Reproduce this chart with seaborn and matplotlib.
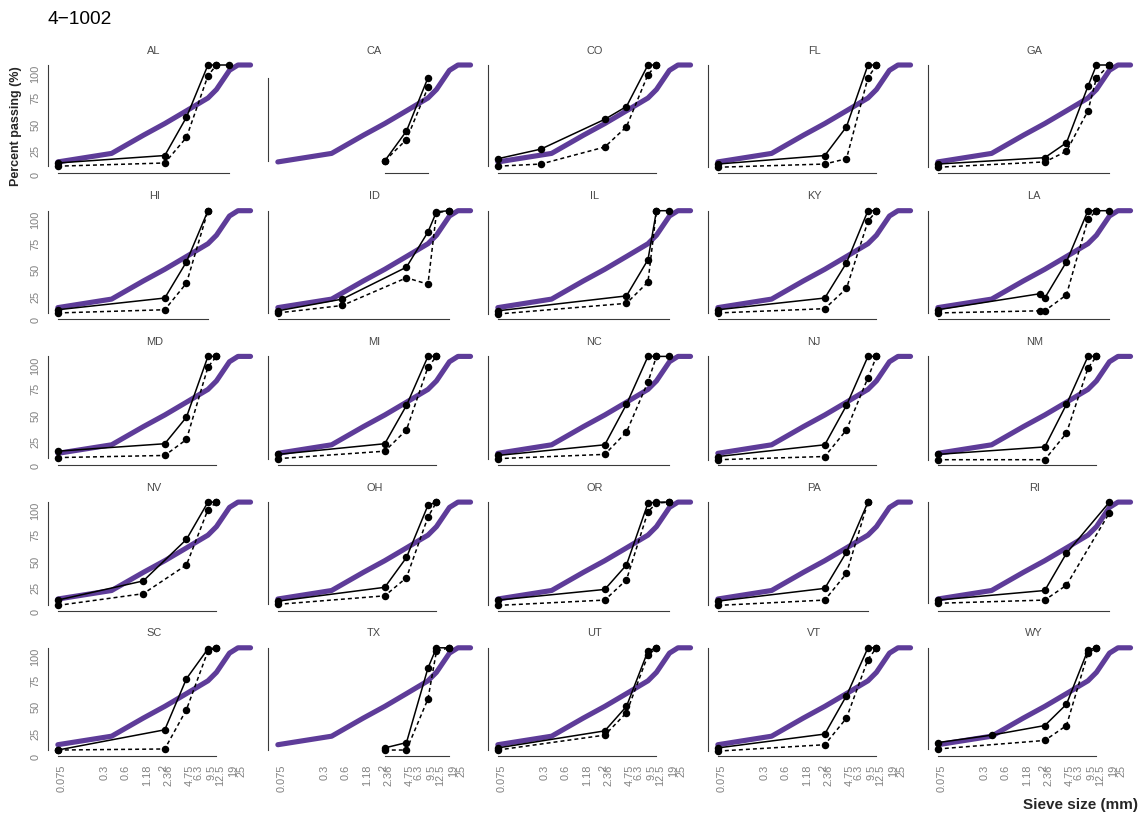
import numpy as np
import pandas as pd
import matplotlib
matplotlib.use("Agg")
import matplotlib.pyplot as plt
from matplotlib.ticker import NullLocator
from matplotlib.transforms import ScaledTranslation
import seaborn as sns

# ---------------------------------------------------------------- data
STATES = ["AL", "CA", "CO", "FL", "GA",
          "HI", "ID", "IL", "KY", "LA",
          "MD", "MI", "NC", "NJ", "NM",
          "NV", "OH", "OR", "PA", "RI",
          "SC", "TX", "UT", "VT", "WY"]

# sieve sizes (mm) reported for each state
SIEVES = {
    "AL": [0.075, 2.36, 4.75, 9.5, 12.5, 19],
    "CA": [2.36, 4.75, 9.5],
    "CO": [0.075, 0.3, 2.36, 4.75, 9.5, 12.5],
    "FL": [0.075, 2.36, 4.75, 9.5, 12.5],
    "GA": [0.075, 2.36, 4.75, 9.5, 12.5, 19],
    "HI": [0.075, 2.36, 4.75, 9.5],
    "ID": [0.075, 0.6, 4.75, 9.5, 12.5, 19],
    "IL": [0.075, 4.75, 9.5, 12.5, 19],
    "KY": [0.075, 2.36, 4.75, 9.5, 12.5],
    "LA": [0.075, 2, 2.36, 4.75, 9.5, 12.5, 19],
    "MD": [0.075, 2.36, 4.75, 9.5, 12.5],
    "MI": [0.075, 2.36, 4.75, 9.5, 12.5],
    "NC": [0.075, 2.36, 4.75, 9.5, 12.5, 19],
    "NJ": [0.075, 2.36, 4.75, 9.5, 12.5],
    "NM": [0.075, 2.36, 4.75, 9.5, 12.5],
    "NV": [0.075, 1.18, 4.75, 9.5, 12.5],
    "OH": [0.075, 2.36, 4.75, 9.5, 12.5],
    "OR": [0.075, 2.36, 4.75, 9.5, 12.5, 19],
    "PA": [0.075, 2.36, 4.75, 9.5],
    "RI": [0.075, 2.36, 4.75, 19],
    "SC": [0.075, 2.36, 4.75, 9.5, 12.5],
    "TX": [2.36, 4.75, 9.5, 12.5, 19],
    "UT": [0.075, 2.36, 4.75, 9.5, 12.5],
    "VT": [0.075, 2.36, 4.75, 9.5, 12.5],
    "WY": [0.075, 0.425, 2.36, 4.75, 9.5, 12.5],
}

# percent passing, first gradation (solid line)
PASSING_A = {
    "AL": [8, 15, 51, 100, 100, 100],
    "CA": [10, 38, 88],
    "CO": [12, 21, 49, 61, 100, 100],
    "FL": [7, 15, 42, 100, 100],
    "GA": [7, 13, 27, 80, 100, 100],
    "HI": [7, 18, 52, 100],
    "ID": [6, 17, 47, 80, 99, 100],
    "IL": [6, 20, 54, 100, 100],
    "KY": [7, 18, 51, 100, 100],
    "LA": [7, 22, 18, 52, 100, 100, 100],
    "MD": [11, 18, 43, 100, 100],
    "MI": [8, 18, 54, 100, 100],
    "NC": [7, 17, 55, 100, 100, 100],
    "NJ": [6, 17, 54, 100, 100],
    "NM": [8, 15, 55, 100, 100],
    "NV": [8, 26, 65, 100, 100],
    "OH": [7, 20, 48, 97, 100],
    "OR": [8, 18, 41, 99, 100, 100],
    "PA": [7, 19, 53, 100],
    "RI": [8, 17, 52, 100],
    "SC": [4, 23, 71, 99, 100],
    "TX": [6, 11, 81, 100, 100],
    "UT": [6, 22, 45, 97, 100],
    "VT": [6, 19, 55, 100, 100],
    "WY": [11, 18, 27, 47, 98, 100],
}

# percent passing, second gradation (dashed line)
PASSING_B = {
    "AL": [5, 8, 32, 90, 100, None],
    "CA": [10, 30, 79],
    "CO": [5, 7, 23, 42, 91, 100],
    "FL": [4, 7, 12, 88, 100],
    "GA": [4, 9, 19, 57, 88, 100],
    "HI": [4, 7, 32, 100],
    "ID": [4, 11, 37, 31, 98, 100],
    "IL": [3, 13, 33, 100, None],
    "KY": [4, 8, 27, 90, 100],
    "LA": [4, 6, 6, 21, 92, 100, None],
    "MD": [5, 7, 22, 90, 100],
    "MI": [4, 11, 31, 90, 100],
    "NC": [4, 8, 29, 76, 100, None],
    "NJ": [3, 6, 31, 80, 100],
    "NM": [3, 3, 28, 89, 100],
    "NV": [3, 14, 41, 93, 100],
    "OH": [4, 12, 29, 86, 100],
    "OR": [3, 8, 27, 91, 99, 100],
    "PA": [3, 8, 33, 100],
    "RI": [5, 8, 22, 90],
    "SC": [4, 5, 42, 97, 100],
    "TX": [4, 4, 52, 97, 100],
    "UT": [4, 18, 39, 93, 100],
    "VT": [3, 9, 34, 89, 100],
    "WY": [5, None, 13, 27, 95, 100],
}

# reference gradation drawn in every panel
REF_SIEVES = [0.075, 0.425, 1.18, 2.36, 4.75, 9.5, 12.5, 19, 25, 37.5]
REF_PASSING = [9, 17, 34, 45, 57, 69, 77, 95, 100, 100]

X_TICKS = [0.075, 0.3, 0.6, 1.18, 2, 2.36, 4.75, 6.3, 9.5, 12.5, 19, 25]
X_TICK_LABELS = ["0.075", "0.3", "0.6", "1.18", "2", "2.36",
                 "4.75", "6.3", "9.5", "12.5", "19", "25"]
Y_TICKS = [0, 25, 50, 75, 100]

# ---------------------------------------------------------------- tidy frame
rows = []
for st in STATES:
    for mix, vals in (("A", PASSING_A[st]), ("B", PASSING_B[st])):
        for s, v in zip(SIEVES[st], vals):
            if v is not None:
                rows.append({"state": st, "mix": mix, "sieve": s, "passing": v})
df = pd.DataFrame(rows)

# ---------------------------------------------------------------- style
sns.set_theme(style="white")
plt.rcParams["font.family"] = ["Liberation Sans", "DejaVu Sans"]

PURPLE = "#5e3c99"
TICK_GREY = "#808080"
STRIP_GREY = "#4a4a4a"
TICK_SIZE = 7.9

W, H = 1144, 815
fig = plt.figure(figsize=(W / 100, H / 100), dpi=100)

# shared (fixed) scales, padded 5% on each side
all_x = np.log10(np.r_[df["sieve"].values, REF_SIEVES])
all_y = np.r_[df["passing"].values, REF_PASSING]
xr = all_x.max() - all_x.min()
yr = all_y.max() - all_y.min()
XLIM = (10 ** (all_x.min() - 0.05 * xr), 10 ** (all_x.max() + 0.05 * xr))
YLIM = (all_y.min() - 0.05 * yr, all_y.max() + 0.05 * yr)

PX_PER_DEC = 71.4
PX_PER_PCT = 1.065
panel_w = (np.log10(XLIM[1]) - np.log10(XLIM[0])) * PX_PER_DEC
panel_h = (YLIM[1] - YLIM[0]) * PX_PER_PCT
left0 = 48.2
top0 = 65 - (YLIM[1] - 100) * PX_PER_PCT
col_step = 220.0
row_step = 145.7

shift = ScaledTranslation(3.5 / 100, 0, fig.dpi_scale_trans)

for i, st in enumerate(STATES):
    r, c = divmod(i, 5)
    left = left0 + c * col_step
    top = top0 + r * row_step
    ax = fig.add_axes([left / W, 1 - (top + panel_h) / H, panel_w / W, panel_h / H])
    ax.set_facecolor("none")

    sns.lineplot(x=REF_SIEVES, y=REF_PASSING, color=PURPLE, linewidth=3.7,
                 ax=ax, zorder=1)
    sub = df[df["state"] == st]
    sns.lineplot(data=sub, x="sieve", y="passing", style="mix",
                 style_order=["A", "B"],
                 dashes={"A": "", "B": (2.6, 2.0)},
                 markers={"A": "o", "B": "o"},
                 color="black", linewidth=1.1, markersize=5.4,
                 markeredgewidth=0, legend=False, ax=ax, zorder=3)

    ax.set_xscale("log")
    ax.set_xlim(XLIM)
    ax.set_ylim(YLIM)
    ax.xaxis.set_minor_locator(NullLocator())
    ax.set_xlabel("")
    ax.set_ylabel("")

    for side in ("top", "right"):
        ax.spines[side].set_visible(False)
    for side in ("left", "bottom"):
        ax.spines[side].set_color("#3a3a3a")
        ax.spines[side].set_linewidth(0.8)
    ax.spines["left"].set_bounds(sub["passing"].min(), sub["passing"].max())
    ax.spines["bottom"].set_bounds(sub["sieve"].min(), sub["sieve"].max())

    ax.tick_params(length=0)
    if r == 4:
        ax.set_xticks(X_TICKS, X_TICK_LABELS, rotation=90, ha="center",
                      va="top", fontsize=TICK_SIZE, color=TICK_GREY)
        ax.tick_params(axis="x", pad=6)
        for lbl in ax.get_xticklabels():
            lbl.set_transform(lbl.get_transform() + shift)
    else:
        ax.set_xticks(X_TICKS, [])
    if c == 0:
        ax.set_yticks(Y_TICKS, [str(v) for v in Y_TICKS], rotation=90,
                      va="top", ha="right", fontsize=TICK_SIZE, color=TICK_GREY)
        ax.tick_params(axis="y", pad=5.5)
    else:
        ax.set_yticks(Y_TICKS, [])

    ax.set_title(st, fontsize=TICK_SIZE, color=STRIP_GREY, pad=4.5)

fig.text(48 / W, 1 - 19 / H, "4\u22121002", fontsize=13.8, ha="left",
         va="center", color="black")
fig.text(16 / W, 1 - 66 / H, "Percent passing (%)", rotation=90,
         fontsize=9, fontweight="bold", ha="center", va="top")
fig.text(1138 / W, 1 - 805 / H, "Sieve size (mm)", fontsize=11,
         fontweight="bold", ha="right", va="center")

fig.savefig("out.png", dpi=100, facecolor="white")
